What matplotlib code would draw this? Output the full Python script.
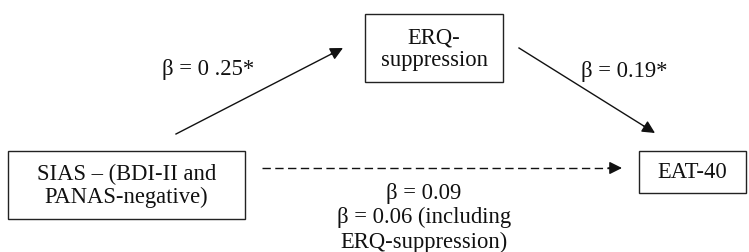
import numpy as np
import matplotlib.pyplot as plt
from matplotlib.patches import Rectangle

plt.rcParams['font.family'] = ['Liberation Serif', 'DejaVu Serif']

# nodes: label, box (left, top, right, bottom) in pixel units
node_labels = ['SIAS – (BDI-II and\nPANAS-negative)', 'ERQ-\nsuppression', 'EAT-40']
node_boxes = [(8, 151, 245, 219), (365, 14, 503, 82), (639, 151, 746, 193)]

# paths: start, end, style, label, label position
path_starts = [(176, 134), (519, 48), (262, 168)]
path_ends = [(343, 48), (655, 133), (622, 168)]
path_styles = ['-', '-', (0, (6, 3.2))]
path_labels = ['β = 0 .25*', 'β = 0.19*', 'β = 0.09\nβ = 0.06 (including\nERQ-suppression)']
label_pos = [(208, 70), (624, 71), (424, 218)]

fig = plt.figure(figsize=(7.49, 2.52), dpi=100)
ax = fig.add_axes([0, 0, 1, 1])
ax.set_xlim(0, 749)
ax.set_ylim(252, 0)
ax.axis('off')

ink = '#111111'

for label, (l, t, r, b) in zip(node_labels, node_boxes):
    ax.add_patch(Rectangle((l, t), r - l, b - t, fill=False, lw=1.0, ec='#222222'))
    ax.text((l + r) / 2, (t + b) / 2 + 1, label, ha='center', va='center',
            fontsize=16.3, linespacing=1.1, color=ink)

for s, e, ls in zip(path_starts, path_ends, path_styles):
    s = np.array(s, float)
    e = np.array(e, float)
    d = (e - s) / np.hypot(*(e - s))
    # shaft stops under the head, head drawn solid
    ax.plot([s[0], e[0] - 10 * d[0]], [s[1], e[1] - 10 * d[1]], color=ink, lw=1.0, ls=ls)
    ax.annotate('', xy=e, xytext=e - 14 * d,
                arrowprops=dict(arrowstyle='-|>', lw=1.0, color=ink,
                                mutation_scale=19, shrinkA=0, shrinkB=0))

for label, (x, y) in zip(path_labels, label_pos):
    ax.text(x, y, label, ha='center', va='center', fontsize=16.3,
            linespacing=1.22, color=ink)

fig.savefig('out.png', dpi=100)
